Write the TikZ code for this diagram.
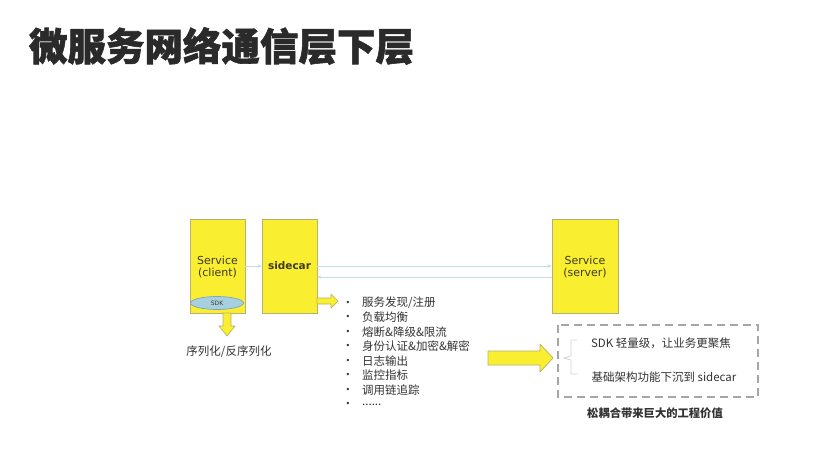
\documentclass[tikz,border=0pt]{standalone}
\usepackage{fontspec}
\newfontfamily\cjk{Noto Sans CJK SC}
\newfontfamily\cjktitle[BoldFeatures={FakeBold=1.5}]{Noto Sans CJK SC}
\newfontfamily\verd{DejaVu Sans}
\usetikzlibrary{arrows.meta,shapes.geometric}
\definecolor{boxyellow}{HTML}{FAEE30}
\definecolor{boxedge}{HTML}{B8B070}
\definecolor{boxtext}{HTML}{3C3A20}
\definecolor{connblue}{HTML}{C6DCE4}
\definecolor{sdkfill}{HTML}{A8CFE0}
\definecolor{sdkedge}{HTML}{7FA6B8}
\definecolor{titlegray}{HTML}{2A2A2A}
\definecolor{txtgray}{HTML}{333333}
\newcommand\mysixdots{......}
\tikzset{
  ybox/.style={draw=boxedge, fill=boxyellow, line width=0.8pt, minimum height=94pt, inner sep=0pt},
  boxlabel/.style={font=\verd\fontsize{11}{12.5}\selectfont, text=boxtext, align=center},
  conn/.style={draw=connblue, line width=0.9pt, -{Stealth[length=4pt,width=3.5pt]}},
  blockarrow/.style={draw=boxedge, fill=boxyellow, line width=0.7pt, line join=round},
  listtext/.style={font=\cjk\fontsize{11.5}{13}\selectfont, text=txtgray, anchor=west, inner sep=0pt},
  bulletmark/.style={font=\verd\fontsize{8}{9}\selectfont, text=txtgray, inner sep=0pt},
}
\begin{document}
\begin{tikzpicture}[x=1pt, y=-1pt]
\useasboundingbox (0,0) rectangle (817,458);
\fill[white] (0,0) rectangle (817,458);

% title
\node[font=\cjktitle\bfseries\fontsize{38.5}{42}\selectfont, text=titlegray, inner sep=0pt] (title) at (221.5,46) {微服务网络通信层下层};

% boxes
\node[ybox, minimum width=55pt] (client) at (217.5,266) {};
\node[boxlabel] (clientlabel) at (217.5,267) {Service\\(client)};
\node[ybox, minimum width=55pt] (sidecar) at (289.5,266) {};
\node[boxlabel, font=\verd\bfseries\fontsize{10.5}{12}\selectfont] (sidecarlabel) at (289.5,266) {sidecar};
\node[ybox, minimum width=66pt] (server) at (585,266) {};
\node[boxlabel] (serverlabel) at (585,267) {Service\\(server)};

% SDK ellipse
\node[draw=sdkedge, fill=sdkfill, ellipse, minimum width=53pt, minimum height=13pt, inner sep=0pt, line width=0.7pt,
      font=\verd\fontsize{6}{7}\selectfont, text=boxtext] (sdk) at (217,303) {SDK};

% connectors
\draw[conn] (client.east) -- (sidecar.west);
\draw[conn] (sidecar.east) -- (server.west);
\draw[conn] ([yshift=-11pt]server.west) -- ([yshift=-11pt]sidecar.east);

% block arrows
\draw[blockarrow] (223,313) -- (231,313) -- (231,326) -- (235,326) -- (227,336) -- (219,326) -- (223,326) -- cycle;
\draw[blockarrow] (317,298) -- (331,298) -- (331,294) -- (338,301) -- (331,308) -- (331,304) -- (317,304) -- cycle;
\draw[blockarrow] (488,351) -- (540,351) -- (540,344) -- (553,358) -- (540,372) -- (540,365) -- (488,365) -- cycle;

% serialization label
\node[font=\cjk\fontsize{11.5}{13}\selectfont, text=txtgray, inner sep=0pt] (serial) at (229,352) {序列化/反序列化};

% bullet list
\foreach \t [count=\i] in {服务发现/注册, 负载均衡, 熔断\&降级\&限流, 身份认证\&加密\&解密, 日志输出, 监控指标, 调用链追踪, \mysixdots} {
  \node[bulletmark] (b\i) at (348,{303+14.5*(\i-1)}) {•};
  \node[listtext] (l\i) at (362,{303+14.5*(\i-1)}) {\t};
}

% dashed box
\draw[draw=gray!70, line width=1.3pt, dash pattern=on 8pt off 5pt] (558,325) rectangle (758,397);
\draw[draw=gray!35, line width=0.8pt] (577,340) -- (571,340) -- (571,356) -- (564,358) -- (571,360) -- (571,374) -- (577,374);
\node[font=\cjk\fontsize{11.5}{13}\selectfont, text=txtgray, inner sep=0pt] (v1) at (661,343) {SDK 轻量级，让业务更聚焦};
\node[font=\cjk\fontsize{11.5}{13}\selectfont, text=txtgray, inner sep=0pt] (v2) at (664,377) {基础架构功能下沉到 sidecar};
\node[font=\cjk\bfseries\fontsize{11.3}{13}\selectfont, text=txtgray, inner sep=0pt] (caption) at (655,413) {松耦合带来巨大的工程价值};
\end{tikzpicture}
\end{document}
